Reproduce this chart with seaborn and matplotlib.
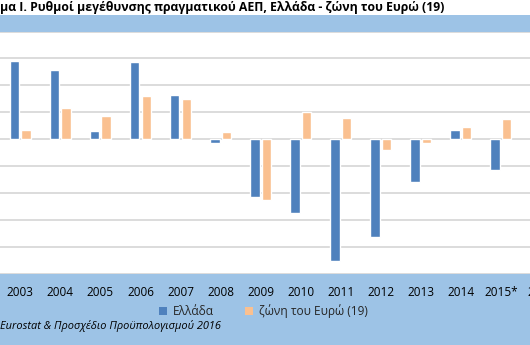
import matplotlib
matplotlib.use("Agg")
import matplotlib.pyplot as plt
import seaborn as sns
import pandas as pd
import numpy as np
from matplotlib.patches import Patch, Rectangle

years = ["2003", "2004", "2005", "2006", "2007", "2008", "2009", "2010",
         "2011", "2012", "2013", "2014", "2015*", "2016"]
greece = [5.8, 5.1, 0.6, 5.7, 3.3, -0.3, -4.3, -5.5, -9.1, -7.3, -3.2, 0.7, -2.3]
euro = [0.7, 2.3, 1.7, 3.2, 3.0, 0.5, -4.5, 2.0, 1.6, -0.8, -0.3, 0.9, 1.5]
series = ["Ελλάδα", "ζώνη του Ευρώ (19)"]
title = "μα Ι. Ρυθμοί μεγέθυνσης πραγματικού ΑΕΠ, Ελλάδα - ζώνη του Ευρώ (19)"
source = "Eurostat & Προσχέδιο Προϋπολογισμού 2016"

colors = ["#4F81BD", "#FAC090"]
bg = "#9DC3E6"

sns.set_theme(style="white")
plt.rcParams["font.family"] = ["Open Sans", "DejaVu Sans"]

n = len(greece)
df = pd.DataFrame({
    "year": years[:n] * 2,
    "value": greece + euro,
    "series": [series[0]] * n + [series[1]] * n,
})

W, H = 530, 345
fig = plt.figure(figsize=(W / 100, H / 100), dpi=100)
fig.patch.set_facecolor(bg)
fig.patches.append(Rectangle((0, (H - 15) / H), 1, 15 / H, transform=fig.transFigure,
                             facecolor="white", edgecolor="none", zorder=0))

x0, x1 = 0.3, 561.0
ytop, ybot = 31.5, 273.5
ax = fig.add_axes([x0 / W, (H - ybot) / H, (x1 - x0) / W, (ybot - ytop) / H])
ax.set_facecolor("white")

sns.barplot(data=df, x="year", y="value", hue="series", order=years,
            hue_order=series, palette=colors, width=0.58, gap=0.18,
            ax=ax, legend=False, saturation=1)

ax.set_xlim(-0.5, len(years) - 0.5)
ax.set_ylim(-10, 8)
ax.set_yticks(np.arange(-10, 9, 2))
ax.yaxis.grid(True, color="#D9D9D9", linewidth=1.3)
ax.set_axisbelow(True)
ax.set_yticklabels([])
ax.tick_params(axis="y", length=0)
ax.tick_params(axis="x", length=0, pad=8.8, labelsize=8.5, colors="#000000")
ax.set_xlabel("")
ax.set_ylabel("")
for s in ax.spines.values():
    s.set_visible(False)

fig.text(0.0, (H - 8) / H, title, fontsize=8.8, fontweight="bold",
         ha="left", va="center", color="#000000")

handles = [Patch(facecolor=c, edgecolor="none") for c in colors]
fig.legend(handles, series, loc="center", bbox_to_anchor=(263.5 / W, (H - 311) / H),
           ncol=2, frameon=False, fontsize=8.6, handlelength=0.7, handleheight=0.7,
           handletextpad=0.5, columnspacing=2.6)

fig.text(0.0, (H - 326) / H, source, fontsize=7.9, style="italic",
         ha="left", va="center", color="#000000")

fig.savefig("out.png", dpi=100, facecolor=bg)
